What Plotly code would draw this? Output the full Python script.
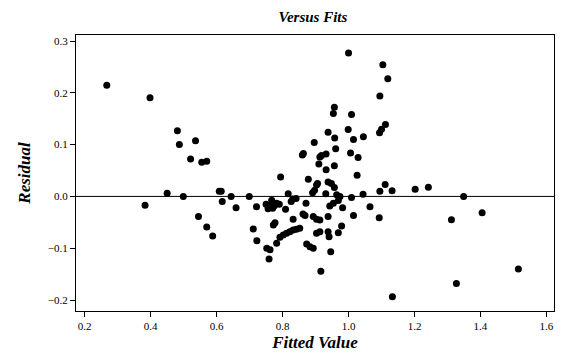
import plotly.graph_objects as go

fitted = [
    0.267, 0.398, 0.481, 0.487, 0.536, 0.521, 0.555, 0.570,
    0.383, 0.450, 0.499, 0.545, 0.570, 0.588, 0.608, 0.614, 0.617, 0.644, 0.659, 0.699, 0.711, 0.721, 0.722,
    1.000, 1.104, 1.119, 1.095, 0.957, 0.954, 1.009, 1.112, 1.100, 1.094, 0.999, 0.938, 0.958, 1.015, 1.045,
    0.896, 0.961, 0.860, 0.863, 0.913, 0.918, 0.932, 0.910, 1.006, 1.029, 0.957, 0.932,
    0.794, 0.878, 0.903, 0.891, 0.897, 0.817, 0.826, 0.831, 0.841, 0.750, 0.761, 0.767, 0.775, 0.782, 0.790,
    0.756, 0.770, 0.809, 0.871, 0.832, 0.862, 0.868,
    1.026, 0.906, 0.938, 0.948, 0.957, 0.931, 0.964, 0.974, 1.044, 1.095, 1.111, 1.132,
    0.943, 0.954, 0.969, 0.982, 1.009, 1.065, 1.015, 1.093,
    0.893, 0.903, 0.913, 0.777, 0.772, 0.938, 0.979, 0.969,
    0.752, 0.762, 0.759, 0.792, 0.802, 0.812, 0.822, 0.832, 0.842, 0.852, 0.782, 0.873, 0.883, 0.893,
    0.903, 0.913, 0.938, 0.941, 0.946, 0.916, 1.133,
    1.202, 1.242, 1.349, 1.405, 1.312, 1.515, 1.327,
]
residual = [
    0.2145, 0.1905, 0.127, 0.100, 0.1075, 0.072, 0.066, 0.068,
    -0.017, 0.006, 0.000, -0.039, -0.059, -0.0765, 0.010, 0.010, -0.010, 0.000, -0.022, 0.000, -0.063, -0.020, -0.0855,
    0.277, 0.254, 0.227, 0.194, 0.172, 0.160, 0.158, 0.139, 0.1295, 0.123, 0.129, 0.124, 0.113, 0.110, 0.115,
    0.104, 0.092, 0.080, 0.083, 0.076, 0.079, 0.082, 0.0625, 0.084, 0.075, 0.059, 0.0515,
    0.0375, 0.033, 0.022, 0.007, 0.012, 0.005, -0.010, -0.005, -0.004, -0.015, -0.017, -0.0075, -0.018, -0.013, -0.015,
    -0.024, -0.023, -0.025, -0.013, -0.044, -0.034, -0.037,
    0.041, 0.025, 0.028, 0.025, 0.017, 0.005, 0.003, 0.000, 0.004, 0.010, 0.023, 0.011,
    -0.0185, -0.013, -0.008, -0.022, -0.002, -0.020, -0.037, -0.041,
    -0.039, -0.044, -0.0455, -0.051, -0.055, -0.039, -0.057, -0.070,
    -0.100, -0.103, -0.121, -0.079, -0.0745, -0.071, -0.068, -0.065, -0.0635, -0.0615, -0.0905, -0.092, -0.097, -0.100,
    -0.071, -0.068, -0.068, -0.078, -0.107, -0.1446, -0.1936,
    0.0137, 0.0176, 0.000, -0.0315, -0.045, -0.140, -0.168,
]

x_ticks = [0.2, 0.4, 0.6, 0.8, 1.0, 1.2, 1.4, 1.6]
y_ticks = [-0.2, -0.1, 0.0, 0.1, 0.2, 0.3]

serif = "Liberation Serif, Times New Roman, serif"

W, H = 553, 344  # page body has an 8px margin inside the 569x360 window

fig = go.Figure()
fig.add_trace(go.Scatter(
    x=fitted, y=residual, mode="markers",
    marker=dict(color="black", size=7, symbol="circle"),
    showlegend=False, hoverinfo="x+y",
))
fig.add_hline(y=0, line=dict(color="black", width=1))

fig.update_layout(
    width=W, height=H,
    paper_bgcolor="white", plot_bgcolor="white",
    margin=dict(l=68, r=7, t=27, b=41, pad=0, autoexpand=False),
    title=dict(text="<b><i>Versus Fits</i></b>", x=305 / W, xref="container", xanchor="center",
               y=1 - 9 / H, yref="container", yanchor="middle",
               font=dict(family=serif, size=15, color="black")),
    font=dict(family=serif, size=11, color="black"),
)
fig.update_xaxes(
    range=[0.1736, 1.623], tickvals=x_ticks, tickformat=".1f", automargin=False,
    showgrid=False, zeroline=False, showline=True, linecolor="black", linewidth=1, mirror=True,
    ticks="outside", ticklen=5, tickcolor="black",
    title=dict(text="<b><i>Fitted Value</i></b>", font=dict(family=serif, size=17), standoff=6),
)
fig.update_yaxes(
    range=[-0.2212, 0.3116], tickvals=y_ticks, tickformat=".1f", automargin=False,
    showgrid=False, zeroline=False, showline=True, linecolor="black", linewidth=1, mirror=True,
    ticks="outside", ticklen=5, tickcolor="black",
    title=dict(text="<b><i>Residual</i></b>", font=dict(family=serif, size=17), standoff=12),
)

fig.write_html("out.html")
